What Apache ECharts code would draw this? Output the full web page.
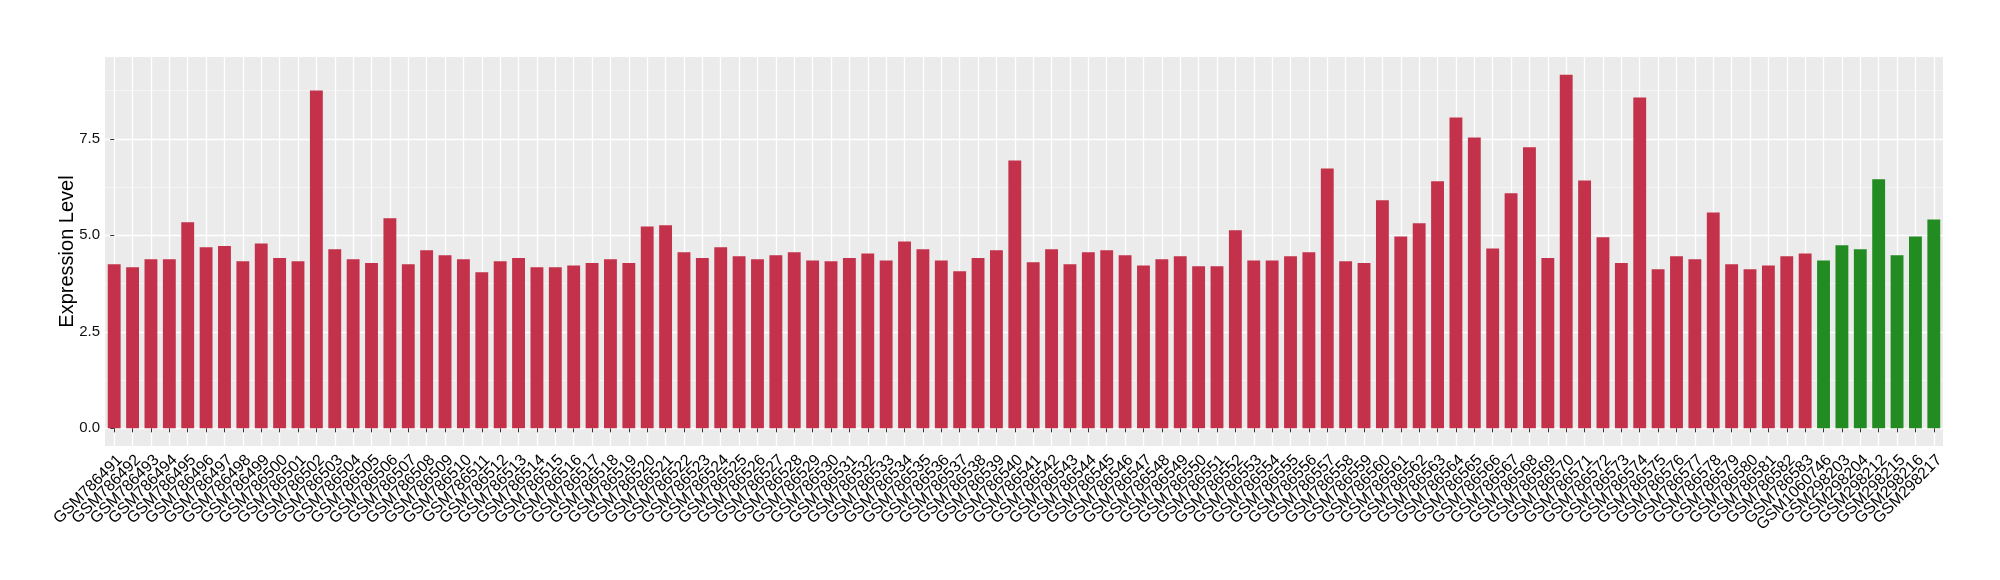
<!DOCTYPE html>
<html>
<head>
<meta charset="utf-8">
<script src="https://cdn.jsdelivr.net/npm/echarts@6/dist/echarts.min.js"></script>
<style>
html,body{margin:0;padding:0;background:#fff;}
#chart{width:2000px;height:580px;}
</style>
</head>
<body>
<div id="chart"></div>
<script>
const categories = [
  'GSM786491','GSM786492','GSM786493','GSM786494','GSM786495','GSM786496','GSM786497','GSM786498','GSM786499','GSM786500',
  'GSM786501','GSM786502','GSM786503','GSM786504','GSM786505','GSM786506','GSM786507','GSM786508','GSM786509','GSM786510',
  'GSM786511','GSM786512','GSM786513','GSM786514','GSM786515','GSM786516','GSM786517','GSM786518','GSM786519','GSM786520',
  'GSM786521','GSM786522','GSM786523','GSM786524','GSM786525','GSM786526','GSM786527','GSM786528','GSM786529','GSM786530',
  'GSM786531','GSM786532','GSM786533','GSM786534','GSM786535','GSM786536','GSM786537','GSM786538','GSM786539','GSM786540',
  'GSM786541','GSM786542','GSM786543','GSM786544','GSM786545','GSM786546','GSM786547','GSM786548','GSM786549','GSM786550',
  'GSM786551','GSM786552','GSM786553','GSM786554','GSM786555','GSM786556','GSM786557','GSM786558','GSM786559','GSM786560',
  'GSM786561','GSM786562','GSM786563','GSM786564','GSM786565','GSM786566','GSM786567','GSM786568','GSM786569','GSM786570',
  'GSM786571','GSM786572','GSM786573','GSM786574','GSM786575','GSM786576','GSM786577','GSM786578','GSM786579','GSM786580',
  'GSM786581','GSM786582','GSM786583','GSM1060746','GSM298203','GSM298204','GSM298212','GSM298215','GSM298216','GSM298217'
];
const values = [
  4.25,4.17,4.38,4.38,5.34,4.69,4.72,4.33,4.79,4.41,
  4.33,8.75,4.64,4.38,4.28,5.44,4.25,4.61,4.48,4.38,
  4.04,4.33,4.41,4.17,4.17,4.22,4.28,4.38,4.28,5.23,
  5.26,4.56,4.41,4.69,4.46,4.38,4.48,4.56,4.35,4.33,
  4.41,4.53,4.35,4.84,4.64,4.35,4.07,4.41,4.61,6.94,
  4.30,4.64,4.25,4.56,4.61,4.48,4.22,4.38,4.46,4.20,
  4.20,5.13,4.35,4.35,4.46,4.56,6.73,4.33,4.28,5.91,
  4.97,5.31,6.40,8.05,7.53,4.66,6.09,7.28,4.41,9.16,
  6.42,4.95,4.28,8.57,4.12,4.46,4.38,5.59,4.25,4.12,
  4.22,4.46,4.53,4.35,4.74,4.64,6.45,4.48,4.97,5.41
];
// group of each sample: 93 tumour (red) then 7 normal (green)
const groups = categories.map((c, i) => i < 93 ? 'tumor' : 'normal');
const groupColors = { tumor: '#C3314A', normal: '#228B22' };
const yTicks = [0, 2.5, 5, 7.5];
const yMinorTicks = [1.25, 3.75, 6.25, 8.75];
const yTitle = 'Expression Level';

const chart = echarts.init(document.getElementById('chart'), null, { renderer: 'canvas' });
const FONT = 'Liberation Sans, Arial, Helvetica, sans-serif';

const barData = values.map((v, i) => ({
  value: v,
  itemStyle: { color: groupColors[groups[i]] }
}));
// positions of category centres on a numeric twin axis (for the vertical grid lines)
const catCentres = categories.map((c, i) => i);

chart.setOption({
  animation: false,
  backgroundColor: '#ffffff',
  grid: {
    left: 105, right: 57, top: 57, bottom: 134,
    show: true, backgroundColor: '#EBEBEB', borderWidth: 0,
    containLabel: false
  },
  xAxis: [
    {
      type: 'category',
      data: categories,
      boundaryGap: true,
      axisLine: { show: false },
      axisTick: { show: true, alignWithLabel: true, length: 4, lineStyle: { color: '#333333', width: 1 } },
      splitLine: { show: false },
      axisLabel: {
        interval: 0, rotate: 45, margin: 6,
        verticalAlign: 'top', align: 'right',
        fontFamily: FONT, fontSize: 16, color: '#000000'
      },
      z: 3
    },
    {
      type: 'value',
      position: 'bottom',
      min: -0.5, max: categories.length - 0.5,
      axisLine: { show: false },
      axisTick: { show: false, customValues: catCentres },
      axisLabel: { show: false, customValues: catCentres },
      splitLine: { show: true, lineStyle: { color: '#ffffff', width: 1.3 } }
    }
  ],
  yAxis: [
    {
      type: 'value',
      min: -0.458, max: 9.618,
      name: yTitle,
      nameLocation: 'middle',
      nameGap: 28,
      nameRotate: 90,
      nameMoveOverlap: false,
      nameTextStyle: { fontFamily: FONT, fontSize: 20, color: '#000' },
      axisLine: { show: false },
      axisTick: { show: true, length: 4, customValues: yTicks, lineStyle: { color: '#333333', width: 1 } },
      axisLabel: {
        customValues: yTicks, margin: 5,
        fontFamily: FONT, fontSize: 15, color: '#111111',
        formatter: v => v.toFixed(1)
      },
      splitLine: { show: true, lineStyle: { color: '#ffffff', width: 1.3 } }
    },
    {
      type: 'value',
      position: 'left',
      min: -0.458, max: 9.618,
      axisLine: { show: false },
      axisTick: { show: false, customValues: yMinorTicks },
      axisLabel: { show: false, customValues: yMinorTicks },
      splitLine: { show: true, lineStyle: { color: '#F7F7F7', width: 0.8 } }
    }
  ],
  series: [{
    type: 'bar',
    data: barData,
    barWidth: '70%',
    xAxisIndex: 0,
    yAxisIndex: 0
  }]
});
</script>
</body>
</html>
